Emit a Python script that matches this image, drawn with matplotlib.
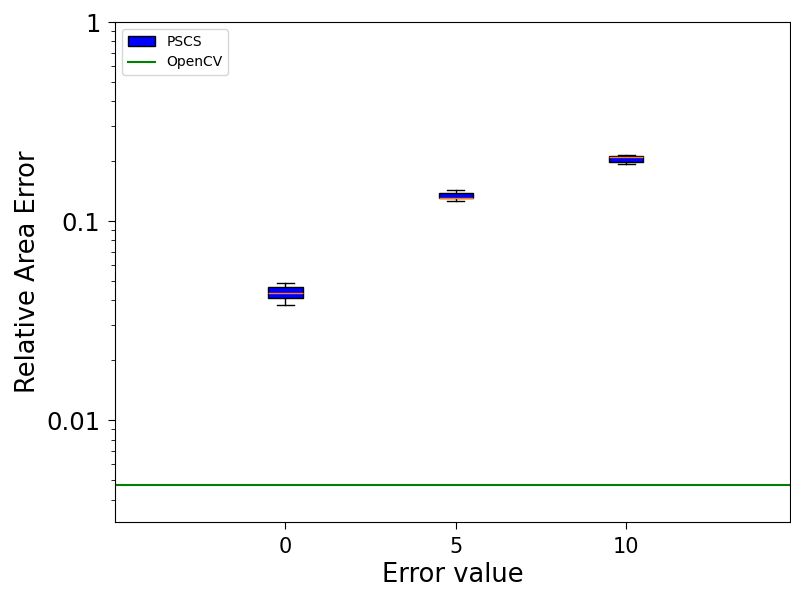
import matplotlib
matplotlib.use("Agg")
from matplotlib import pyplot as plt
from matplotlib.ticker import FixedLocator, FixedFormatter

positions = [0, 5, 10]
whis_low = [0.0378, 0.126, 0.193]
q1 = [0.0410, 0.130, 0.198]
medians = [0.0435, 0.131, 0.210]
q3 = [0.0466, 0.138, 0.212]
whis_high = [0.0488, 0.143, 0.215]
opencv_value = 0.00471

stats = []
for lo, a, m, b, hi in zip(whis_low, q1, medians, q3, whis_high):
    stats.append({'whislo': lo, 'q1': a, 'med': m, 'q3': b, 'whishi': hi, 'fliers': []})

fig = plt.figure(figsize=(7.91, 5.92), dpi=100)
ax = fig.add_axes([0.1454, 0.118, 0.8533, 0.8448])

bp = ax.bxp(stats, positions=positions, widths=1.0, patch_artist=True, showfliers=False)
for box in bp['boxes']:
    box.set_facecolor('blue')
    box.set_edgecolor('black')
for med in bp['medians']:
    med.set_color('#ff7f0e')

opencv_line = ax.axhline(opencv_value, color='green')

ax.set_yscale('log')
ax.set_ylim(0.00308, 1)
ax.set_xlim(-5, 14.8)
ax.yaxis.set_major_locator(FixedLocator([0.01, 0.1, 1]))
ax.yaxis.set_major_formatter(FixedFormatter(['0.01', '0.1', '1']))
ax.set_xticks(positions)
ax.set_xticklabels(['0', '5', '10'])
ax.tick_params(which='major', length=5, pad=5.5)
ax.tick_params(which='minor', length=3)
ax.tick_params(axis='x', labelsize=15)
ax.tick_params(axis='y', labelsize=17.5)

ax.set_xlabel('Error value', fontsize=18.5)
ax.set_ylabel('Relative Area Error', fontsize=18.5)

ax.legend([bp['boxes'][0], opencv_line], ['PSCS', 'OpenCV'], loc='upper left', fontsize=10)

plt.savefig('out.png')
plt.close()
